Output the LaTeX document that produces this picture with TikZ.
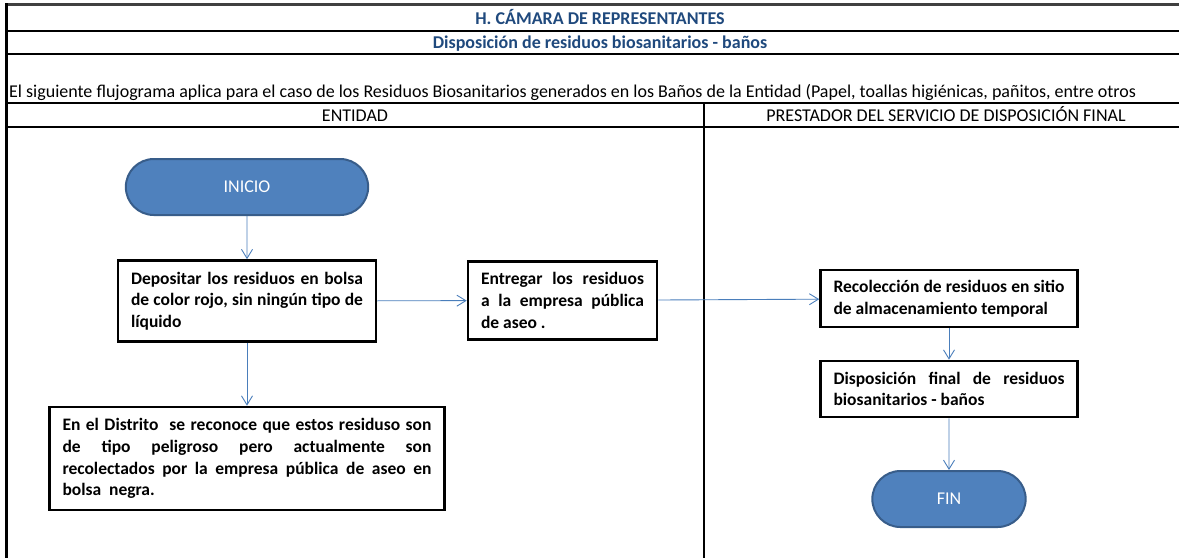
\documentclass[tikz,border=0pt]{standalone}
\usepackage{fontspec}
\setmainfont{Carlito}
\usetikzlibrary{arrows.meta,shapes.misc}
\definecolor{relleno}{HTML}{4F81BD}
\definecolor{borde}{HTML}{385D8A}
\definecolor{flecha}{HTML}{4A7EBB}
\definecolor{titulo}{HTML}{1F497D}

\begin{document}
\begin{tikzpicture}[x=1pt, y=-1pt,
        >={Straight Barb[length=9pt,width=11pt]},
        celda/.style = {font=\fontsize{18}{21}\selectfont, inner sep=0pt, anchor=base},
        encabezado/.style = {celda, font=\bfseries\fontsize{18}{21}\selectfont, text=titulo},
        paso/.style = {draw=black, line width=2.6pt, fill=white, align=justify, inner xsep=13pt,
            font=\bfseries\fontsize{17.5}{21.7}\selectfont},
        terminal/.style = {rounded rectangle, draw=borde, line width=2pt, fill=relleno, text=white,
            minimum height=56pt, font=\fontsize{18}{21}\selectfont},
        flujo/.style = {->, draw=flecha, line width=0.9pt},
        rejilla/.style = {line width=2pt}]
    \useasboundingbox (0,0) rectangle (1179,558);
    \draw[line width=3pt, black!75] (5,4.5) -- (1179,4.5);
    \draw[line width=3pt] (6.5,3) -- (6.5,558);
    \draw[rejilla] (6.5,31) -- (1179,31);
    \draw[rejilla] (6.5,54) -- (1179,54);
    \draw[rejilla] (6.5,103) -- (1179,103);
    \draw[rejilla] (6.5,127) -- (1179,127);
    \draw[rejilla] (704,103) -- (704,558);

    \node (camara)[encabezado] at (600,24) {H. CÁMARA DE REPRESENTANTES};
    \node (proceso)[encabezado] at (600,48) {Disposición de residuos biosanitarios - baños};
    \node (alcance)[celda, anchor=base west] at (9,97.5) {El siguiente flujograma aplica para el caso de los Residuos Biosanitarios generados en los Baños de la Entidad (Papel, toallas higiénicas, pañitos, entre otros};
    \node (entidad)[celda] at (355,121.5) {ENTIDAD};
    \node (prestador)[celda] at (946,121.5) {PRESTADOR DEL SERVICIO DE DISPOSICIÓN FINAL};

    \node (inicio)[terminal, minimum width=249pt] at (247,187) {INICIO};
    \node (depositar_bolsa)[paso, text width=232pt, minimum height=81pt] at (247,301)
        {Depositar los residuos en bolsa\linebreak de color rojo, sin ningún tipo de\linebreak líquido};
    \node (entregar_aseo)[paso, text width=163pt, minimum height=78pt] at (562.5,300.5)
        {Entregar los residuos\linebreak a la empresa pública\linebreak de aseo .};
    \node (nota_distrito)[paso, text width=369pt, minimum height=103pt] at (247,458.5)
        {En el Distrito\ \ se reconoce que estos residuso son\linebreak de tipo peligroso pero actualmente son\linebreak recolectados por la empresa pública de aseo en\linebreak bolsa\ \ negra.};
    \node (recoleccion_sitio)[paso, text width=231pt, minimum height=57pt] at (949,298.5)
        {Recolección de residuos en sitio\linebreak de almacenamiento temporal};
    \node (disposicion_final)[paso, text width=231pt, minimum height=56pt] at (949,389)
        {Disposición final de residuos\linebreak biosanitarios - baños};
    \node (fin)[terminal, minimum width=160pt] at (949,499) {FIN};

    \path (inicio) edge[flujo] (depositar_bolsa);
    \path (depositar_bolsa) edge[flujo] (entregar_aseo);
    \path (depositar_bolsa) edge[flujo] (nota_distrito);
    \path (entregar_aseo) edge[flujo] (recoleccion_sitio);
    \path (recoleccion_sitio) edge[flujo] (disposicion_final);
    \path (disposicion_final) edge[flujo] (fin);
\end{tikzpicture}
\end{document}
